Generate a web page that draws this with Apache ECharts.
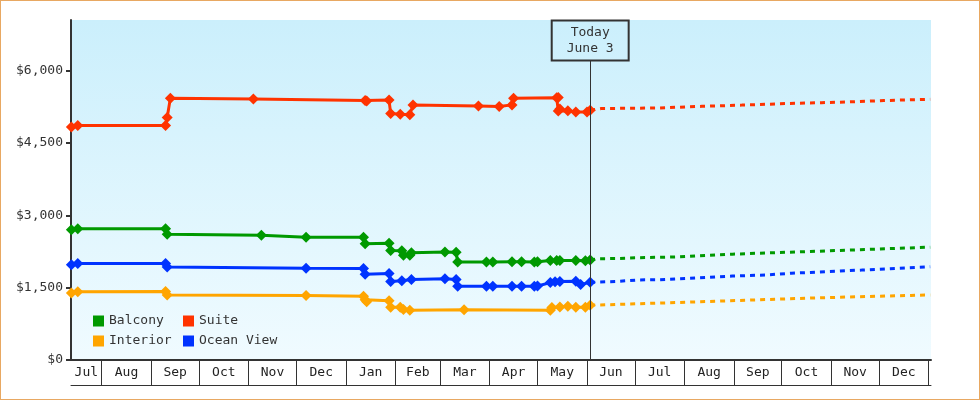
<!DOCTYPE html>
<html><head><meta charset="utf-8">
<script src="https://cdn.jsdelivr.net/npm/echarts@6/dist/echarts.min.js"></script>
<style>
html,body{margin:0;padding:0;background:#fff}
#wrap{position:relative;width:980px;height:400px}
#chart{width:980px;height:400px}
#frame{position:absolute;left:0;top:0;width:980px;height:400px;box-sizing:border-box;border:1px solid #e8a862;pointer-events:none}
</style>
</head><body><div id="wrap"><div id="chart"></div><div id="frame"></div></div>
<script>
// ---------- data ----------
const monthNames = ['Jan','Feb','Mar','Apr','May','Jun','Jul','Aug','Sep','Oct','Nov','Dec'];
const monthStarts = ['2022-07-01','2022-08-01','2022-09-01','2022-10-01','2022-11-01','2022-12-01',
  '2023-01-01','2023-02-01','2023-03-01','2023-04-01','2023-05-01','2023-06-01',
  '2023-07-01','2023-08-01','2023-09-01','2023-10-01','2023-11-01','2023-12-01','2024-01-01'];
const yTicks = [0, 1500, 3000, 4500, 6000];
const todayDate = '2023-06-03';
const todayLabel = 'Today\nJune 3';

const seriesNames = ['Balcony','Suite','Interior','Ocean View'];

const suiteDates = ['2022-07-13','2022-07-17','2022-09-10','2022-09-11','2022-09-13','2022-11-04',
  '2023-01-13','2023-01-14','2023-01-28','2023-01-29','2023-02-04','2023-02-10','2023-02-12',
  '2023-03-25','2023-04-07','2023-04-15','2023-04-16','2023-05-13','2023-05-14','2023-05-14',
  '2023-05-15','2023-05-20','2023-05-25','2023-06-01','2023-06-03'];
const suiteValues = [4830,4860,4860,5030,5430,5410,5380,5370,5390,5110,5095,5085,5290,
  5265,5255,5290,5430,5440,5445,5165,5205,5170,5140,5140,5180];
const suiteFcDates = ['2023-06-03','2023-06-10','2023-07-15','2023-08-12','2023-09-06','2023-10-06',
  '2023-10-26','2023-11-15','2023-12-04','2024-01-02'];
const suiteFcValues = [5180,5215,5225,5260,5285,5320,5335,5355,5380,5405];

const balconyDates = ['2022-07-13','2022-07-17','2022-09-10','2022-09-11','2022-11-09','2022-12-07',
  '2023-01-12','2023-01-13','2023-01-28','2023-01-29','2023-02-05','2023-02-06','2023-02-10',
  '2023-02-11','2023-03-04','2023-03-11','2023-03-12','2023-03-30','2023-04-03','2023-04-15',
  '2023-04-21','2023-04-29','2023-05-01','2023-05-09','2023-05-13','2023-05-15','2023-05-25',
  '2023-05-31','2023-06-03'];
const balconyValues = [2700,2720,2720,2610,2585,2545,2545,2410,2420,2270,2265,2170,2170,
  2225,2240,2235,2030,2030,2030,2035,2035,2030,2035,2065,2065,2065,2065,2060,2075];
const balconyFcDates = ['2023-06-03','2023-06-08','2023-06-20','2023-07-03','2023-07-29','2023-08-31',
  '2023-10-19','2023-12-08','2024-01-02'];
const balconyFcValues = [2075,2100,2105,2120,2140,2195,2250,2310,2340];

const oceanDates = ['2022-07-13','2022-07-17','2022-09-10','2022-09-11','2022-12-07','2023-01-12',
  '2023-01-13','2023-01-28','2023-01-29','2023-02-05','2023-02-11','2023-03-04','2023-03-11',
  '2023-03-12','2023-03-30','2023-04-03','2023-04-15','2023-04-21','2023-04-29','2023-05-01',
  '2023-05-09','2023-05-12','2023-05-15','2023-05-25','2023-05-28','2023-06-03'];
const oceanValues = [1975,2000,2000,1930,1905,1895,1780,1795,1630,1645,1670,1685,1670,
  1530,1530,1530,1530,1530,1530,1535,1605,1625,1630,1635,1565,1610];
const oceanFcDates = ['2023-06-03','2023-06-08','2023-06-20','2023-07-03','2023-07-16','2023-08-31',
  '2023-09-22','2023-10-07','2023-10-19','2023-11-20','2024-01-02'];
const oceanFcValues = [1610,1615,1630,1660,1665,1740,1765,1800,1815,1865,1935];

const interiorDates = ['2022-07-13','2022-07-17','2022-09-10','2022-09-11','2022-12-07','2023-01-12',
  '2023-01-13','2023-01-14','2023-01-28','2023-01-29','2023-02-04','2023-02-06','2023-02-10',
  '2023-03-16','2023-05-09','2023-05-10','2023-05-15','2023-05-20','2023-05-25','2023-05-31','2023-06-03'];
const interiorValues = [1390,1415,1420,1350,1335,1320,1250,1210,1230,1095,1095,1045,1030,
  1040,1030,1090,1100,1115,1095,1095,1135];
const interiorFcDates = ['2023-06-03','2023-07-02','2023-09-05','2023-10-19','2023-12-21','2024-01-02'];
const interiorFcValues = [1135,1165,1235,1285,1340,1350];

// ---------- helpers ----------
function ts(s){ const p = s.split('-').map(Number); return new Date(p[0], p[1]-1, p[2]).getTime(); }
function pairs(d, v){ return d.map((x,i)=>[ts(x), v[i]]); }

const xMin = ts('2022-07-12') + 18*3600e3;
const xMax = ts('2024-01-02') + 12*3600e3;
const tickVals = monthStarts.map(ts).filter(t => t > xMin && t <= xMax);
const labelVals = [];
for (let i = 0; i < monthStarts.length - 1; i++) {
  const a = Math.max(ts(monthStarts[i]), xMin), b = Math.min(ts(monthStarts[i+1]), xMax);
  if (b > a) labelVals.push((a + b) / 2);
}
const colors = {Balcony:'#009900', Suite:'#ff3300', Interior:'#ffa500', 'Ocean View':'#0033ff'};
const FONT = 'DejaVu Sans Mono';

function hist(name, d, v){
  return {name, type:'line', data:pairs(d,v), symbol:'diamond', symbolSize:11, showSymbol:true,
    lineStyle:{width:3, color:colors[name]}, itemStyle:{color:colors[name]},
    emphasis:{disabled:true}, z:3};
}
function fc(name, d, v, extra){
  return Object.assign({name, type:'line', data:pairs(d,v), symbol:'none', showSymbol:false,
    lineStyle:{width:3, color:colors[name], type:[5,5]}, itemStyle:{color:colors[name]},
    emphasis:{disabled:true}, z:2}, extra||{});
}
const legendBase = {orient:'vertical', top:314, padding:0, icon:'rect', itemWidth:11, itemHeight:11, itemGap:6,
  selectedMode:false, textStyle:{fontFamily:FONT, fontSize:13, color:'#333', lineHeight:14}};

const chart = echarts.init(document.getElementById('chart'), null, {renderer:'canvas'});
chart.setOption({
  animation:false,
  grid:{left:71, right:49, top:20, bottom:40, show:true, borderWidth:0,
    backgroundColor:new echarts.graphic.LinearGradient(0,0,0,1,[{offset:0,color:'#cbeffc'},{offset:1,color:'#f0fbff'}])},
  legend:[
    Object.assign({data:['Balcony','Interior'], left:93}, legendBase),
    Object.assign({data:['Suite','Ocean View'], left:183}, legendBase)
  ],
  xAxis:[
    {type:'value', min:xMin, max:xMax, scale:true,
      axisLine:{show:true, onZero:false, lineStyle:{color:'#333', width:2}},
      axisTick:{show:true, customValues:tickVals, length:25, lineStyle:{color:'#333', width:1}},
      axisLabel:{customValues:labelVals, margin:6, fontFamily:FONT, fontSize:13, color:'#222',
        formatter:(v)=>monthNames[new Date(v).getMonth()]},
      splitLine:{show:false}},
    {type:'value', min:xMin, max:xMax, scale:true, position:'bottom', offset:25,
      axisLine:{show:true, onZero:false, lineStyle:{color:'#333', width:1}},
      axisTick:{show:false}, axisLabel:{show:false}, splitLine:{show:false}}
  ],
  yAxis:{type:'value', min:0, max:7050, interval:1500,
    axisLine:{show:true, lineStyle:{color:'#333', width:2}},
    axisTick:{show:true, customValues:yTicks, length:5, lineStyle:{color:'#333', width:2}},
    axisLabel:{customValues:yTicks, margin:8, fontFamily:FONT, fontSize:13, color:'#333',
      formatter:(v)=>'$' + v.toLocaleString('en-US')},
    splitLine:{show:false}},
  series:[
    fc('Balcony', balconyFcDates, balconyFcValues),
    fc('Suite', suiteFcDates, suiteFcValues, {
      markLine:{silent:true, symbol:'none', animation:false,
        lineStyle:{color:'#333', width:1, type:'solid'},
        label:{show:true, position:'end', distance:0, formatter:todayLabel,
          fontFamily:FONT, fontSize:13, color:'#333', lineHeight:16, align:'center',
          padding:[4,15,4,15], borderColor:'#333', borderWidth:1, backgroundColor:'transparent'},
        emphasis:{disabled:true},
        data:[[{coord:[ts(todayDate), 0]}, {coord:[ts(todayDate), 6210]}]]}}),
    fc('Interior', interiorFcDates, interiorFcValues),
    fc('Ocean View', oceanFcDates, oceanFcValues),
    hist('Balcony', balconyDates, balconyValues),
    hist('Suite', suiteDates, suiteValues),
    hist('Interior', interiorDates, interiorValues),
    hist('Ocean View', oceanDates, oceanValues)
  ]
});
</script></body></html>
